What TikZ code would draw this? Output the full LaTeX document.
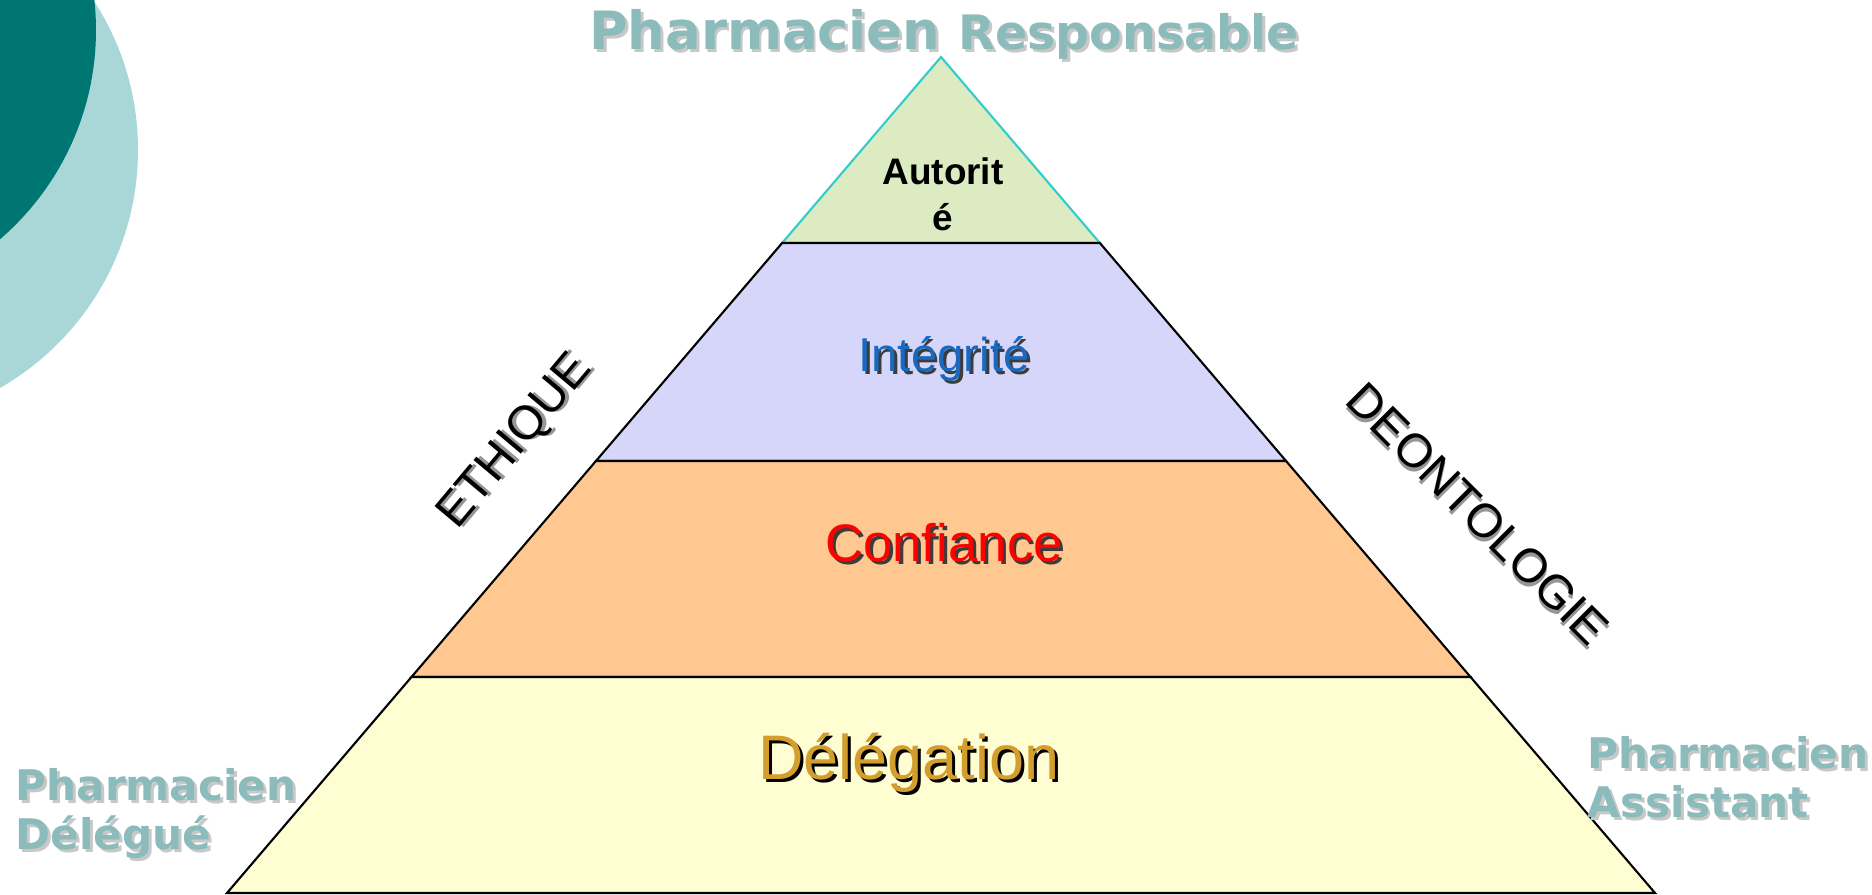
\documentclass[tikz,border=0pt]{standalone}
\usepackage{fontspec}
\setmainfont{Liberation Sans}
\newfontfamily\verd{DejaVu Sans}
\usetikzlibrary{calc,positioning}
\definecolor{tealfonce}{RGB}{0,118,114}
\definecolor{tealclair}{RGB}{169,214,214}
\definecolor{tealtexte}{RGB}{139,187,186}
\definecolor{ombreclaire}{RGB}{200,200,200}
\definecolor{ombregrise}{RGB}{150,150,150}
\definecolor{ombre}{RGB}{60,60,60}
\definecolor{bordtop}{RGB}{51,204,204}
\definecolor{autor}{RGB}{221,235,195}
\definecolor{integ}{RGB}{213,214,250}
\definecolor{confi}{RGB}{255,200,145}
\definecolor{deleg}{RGB}{255,253,210}
\definecolor{bleutexte}{RGB}{25,105,190}
\definecolor{ortexte}{RGB}{212,158,46}
\newcommand{\shd}[2]{\makebox[0pt][l]{\hspace{0.8pt}\raisebox{-0.8pt}{\textcolor{#1}{#2}}}#2}
\newcommand{\pharma}[1]{\verd\bfseries\fontsize{#1}{13.8}\selectfont}

\begin{document}
\begin{tikzpicture}[x=0.01cm,y=-0.01cm,
  layer/.style={draw=black,line width=0.6pt},
  titre/.style={text=tealtexte,inner sep=0pt,align=left},
  niveau/.style={inner sep=0pt,anchor=base}]
\useasboundingbox (0,0) rectangle (1872,895);
\clip (0,0) rectangle (1872,895);
% cercles du coin
\fill[tealclair] (-136,150) circle (274);
\fill[tealfonce] (-180,30) circle (276);
% pyramide
\coordinate (apex) at (941,57);
\coordinate (bl) at (227,893);
\coordinate (br) at (1655,893);
\filldraw[fill=autor,draw=bordtop,line width=0.6pt] (apex) -- ($(apex)!0.2225!(bl)$) -- ($(apex)!0.2225!(br)$) -- cycle;
\foreach \ta/\tb/\col in {0.2225/0.4833/integ,0.4833/0.7416/confi,0.7416/1/deleg}
  \filldraw[layer,fill=\col] ($(apex)!\ta!(bl)$) -- ($(apex)!\tb!(bl)$) -- ($(apex)!\tb!(br)$) -- ($(apex)!\ta!(br)$) -- cycle;
% textes des niveaux
\node[inner sep=0pt,anchor=north,align=center,font=\fontsize{10.5}{13.1}\selectfont\bfseries] (autorite) at (943,157) {Autorit\\é};
\node[niveau,text=bleutexte,font=\fontsize{13.5}{16}\selectfont] (integrite) at (944,372) {\shd{ombre}{Intégrité}};
\node[niveau,text=red,font=\fontsize{15}{18}\selectfont] (confiance) at (944,562) {\shd{ombre}{Confiance}};
\node[niveau,text=ortexte,font=\fontsize{17.9}{21}\selectfont] (delegation) at (909,780) {\shd{black}{Délégation}};
% cotes
\node[rotate=50,font=\fontsize{13.5}{16}\selectfont] (ethique) at (517,443) {\shd{ombregrise}{ETHIQUE}};
\node[rotate=-45,font=\fontsize{13.5}{16}\selectfont] (deontologie) at (1477,515) {\shd{ombregrise}{DEONTOLOGIE}};
% pharmaciens
\node[titre,anchor=base,font=\pharma{15}] (responsable) at (944,50) {\shd{ombreclaire}{Pharmacien} {\fontsize{13.5}{16}\selectfont\shd{ombreclaire}{Responsable}}};
\node[titre,anchor=north west,font=\pharma{12}] (delegue) at (15,768) {\shd{ombreclaire}{Pharmacien}\\\shd{ombreclaire}{Délégué}};
\node[titre,anchor=north west,font=\pharma{12}] (assistant) at (1587,736) {\shd{ombreclaire}{Pharmacien}\\\shd{ombreclaire}{Assistant}};
\end{tikzpicture}
\end{document}
